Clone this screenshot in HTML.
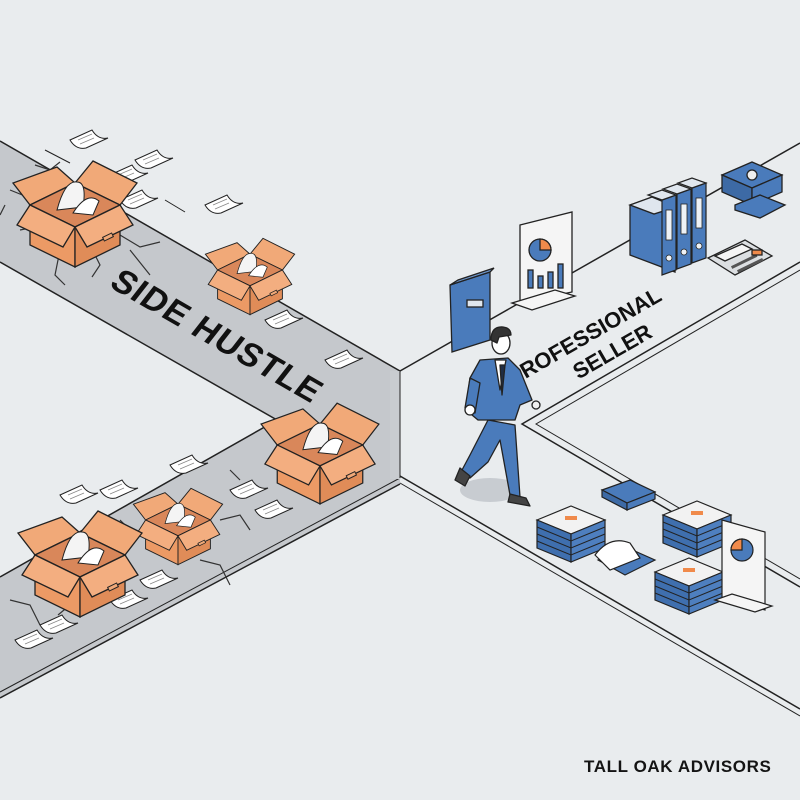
<!DOCTYPE html>
<html><head><meta charset="utf-8"><style>
html,body{margin:0;padding:0;background:#e9ecee;}
svg{display:block}
</style></head><body>
<svg width="800" height="800" viewBox="0 0 800 800" xmlns="http://www.w3.org/2000/svg">
<defs>
 <g id="box">
  <polygon points="-45,0 -62,-22 -18,-38 0,-22" fill="#f1a978" stroke="#222" stroke-width="1.3"/>
  <polygon points="0,-22 18,-44 62,-22 45,0" fill="#f1a978" stroke="#222" stroke-width="1.3"/>
  <polygon points="-45,0 0,-22 45,0 0,22" fill="#d9875a" stroke="#222" stroke-width="1.3"/>
  <path d="M-18,5 q8,-30 20,-28 q10,0 6,25 z" fill="#f4f4f4" stroke="#222" stroke-width="1"/>
  <path d="M-2,8 q14,-22 26,-12 l-6,14 z" fill="#fff" stroke="#222" stroke-width="1"/>
  <polygon points="-45,0 0,22 0,62 -45,40" fill="#ec9a65" stroke="#222" stroke-width="1.3"/>
  <polygon points="0,22 45,0 45,40 0,62" fill="#e08c58" stroke="#222" stroke-width="1.3"/>
  <polygon points="-45,0 -58,20 -12,42 0,22" fill="#f3ae80" stroke="#222" stroke-width="1.3"/>
  <polygon points="0,22 12,42 58,20 45,0" fill="#f3ae80" stroke="#222" stroke-width="1.3"/>
  <rect x="28" y="30" width="10" height="4" fill="#f1a978" stroke="#222" stroke-width="1" transform="rotate(-26 33 32)"/>
 </g>
 <g id="paper">
  <path d="M0,0 l22,-10 q6,10 16,8 l-22,10 q-10,2 -16,-8z" fill="#fff" stroke="#222" stroke-width="1"/>
  <path d="M8,0 l14,-6 M10,4 l14,-6" stroke="#888" stroke-width="0.8"/>
 </g>
 <g id="stack">
  <polygon points="0,0 34,-14 68,0 34,14" fill="#f2f2f2" stroke="#222" stroke-width="1.2"/>
  <polygon points="0,0 34,14 34,42 0,28" fill="#3f6fae" stroke="#222" stroke-width="1.2"/>
  <polygon points="34,14 68,0 68,28 34,42" fill="#4e7fbf" stroke="#222" stroke-width="1.2"/>
  <path d="M0,7 34,21 68,7 M0,14 34,28 68,14 M0,21 34,35 68,21" fill="none" stroke="#222" stroke-width="1"/>
  <rect x="28" y="-4" width="12" height="4" fill="#f08a4b"/>
 </g>
 <g id="binder">
  <polygon points="0,0 14,-5 14,70 0,75" fill="#4a7bbb" stroke="#222" stroke-width="1.2"/>
  <polygon points="0,0 14,-5 0,-10 -14,-5" fill="#dfe6ee" stroke="#222" stroke-width="1.2"/>
  <rect x="4" y="10" width="6" height="30" fill="#eef2f6" stroke="#222" stroke-width="0.8"/>
  <circle cx="7" cy="58" r="3" fill="#eef2f6" stroke="#222" stroke-width="0.8"/>
 </g>
</defs>

<!-- left road -->
<polygon points="0,141 400,371 400,484 0,698 0,577 277,420 0,262" fill="#c5c8cc"/>
<polyline points="0,141 400,371" fill="none" stroke="#222" stroke-width="1.5"/>
<polyline points="0,262 277,420 0,577" fill="none" stroke="#222" stroke-width="1.5"/>
<polyline points="0,698 400,484" fill="none" stroke="#222" stroke-width="1.5"/>
<polyline points="0,692 400,478" fill="none" stroke="#222" stroke-width="1"/>
<rect x="390" y="371" width="10" height="108" fill="#c9ccd0"/>
<line x1="400" y1="371" x2="400" y2="478" stroke="#222" stroke-width="1"/>

<!-- right lines -->
<polyline points="400,371 800,143" fill="none" stroke="#222" stroke-width="1.5"/>
<polyline points="800,262 522,424 800,587" fill="none" stroke="#222" stroke-width="1.5"/>
<polyline points="800,270 536,424 800,579" fill="none" stroke="#222" stroke-width="1"/>
<polyline points="400,476 800,709" fill="none" stroke="#222" stroke-width="1.5"/>
<polyline points="400,483 800,716" fill="none" stroke="#222" stroke-width="1"/>

<!-- cracks -->
<g fill="none" stroke="#333" stroke-width="1.2">
<path d="M10,190 l20,8 l10,-12 M20,230 l25,-5 l8,12 M60,250 l-5,25 l10,10 M90,245 l10,20 l-8,12 M120,235 l20,12 l20,-5 M130,250 l20,25 M5,205 l-5,10 M35,165 l15,5 l10,-8"/>
<path d="M220,520 l20,-5 l10,15 M200,560 l20,5 l10,20 M60,590 l10,15 l-12,10 M10,600 l20,5 l10,20 M120,520 l15,15 M230,470 l10,10"/>
</g>

<!-- papers -->
<use href="#paper" x="120" y="200"/>
<use href="#paper" x="110" y="175"/>
<use href="#paper" x="135" y="160"/>
<use href="#paper" x="265" y="320"/>
<use href="#paper" x="325" y="360"/>
<use href="#paper" x="170" y="465"/>
<use href="#paper" x="230" y="490"/>
<use href="#paper" x="255" y="510"/>
<use href="#paper" x="100" y="490"/>
<use href="#paper" x="60" y="495"/>
<use href="#paper" x="140" y="580"/>
<use href="#paper" x="110" y="600"/>
<use href="#paper" x="40" y="625"/>
<use href="#paper" x="15" y="640"/>
<use href="#paper" x="70" y="140"/>
<use href="#paper" x="205" y="205"/>
<line x1="45" y1="150" x2="70" y2="163" stroke="#222"/>
<line x1="165" y1="200" x2="185" y2="212" stroke="#222"/>

<!-- boxes -->
<use href="#box" transform="translate(75,205)"/>
<use href="#box" transform="translate(250,270) scale(0.72)"/>
<use href="#box" transform="translate(320,445) scale(0.95)"/>
<use href="#box" transform="translate(178,520) scale(0.72)"/>
<use href="#box" transform="translate(80,555)"/>

<!-- text -->
<text x="0" y="0" transform="translate(210,345) rotate(30) skewX(-8)" text-anchor="middle" font-family="Liberation Sans, sans-serif" font-weight="900" font-size="34" fill="#111" style="letter-spacing:1px">SIDE HUSTLE</text>
<text x="0" y="0" transform="translate(588,343) rotate(-30)" text-anchor="middle" font-family="Liberation Sans Narrow, Liberation Sans, sans-serif" font-weight="700" font-size="22" fill="#111">PROFESSIONAL</text>
<text x="0" y="0" transform="translate(616,358) rotate(-30)" text-anchor="middle" font-family="Liberation Sans Narrow, Liberation Sans, sans-serif" font-weight="700" font-size="22" fill="#111">SELLER</text>

<!-- top-right items -->
<g stroke="#222" stroke-width="1.3">
 <polygon points="450,285 490,272 490,340 452,352" fill="#4a7bbb"/>
 <polygon points="450,285 458,280 494,268 490,272" fill="#6f97cc"/>
 <rect x="467" y="300" width="16" height="7" fill="#dfe6ee"/>
 <polygon points="520,225 572,212 572,292 520,303" fill="#f5f5f5"/>
 <circle cx="540" cy="250" r="11" fill="#4a7bbb"/><path d="M540,250 V239 A11,11 0 0 1 551,250 z" fill="#f08a4b"/>
 <rect x="528" y="270" width="5" height="18" fill="#4a7bbb"/><rect x="538" y="276" width="5" height="12" fill="#4a7bbb"/><rect x="548" y="272" width="5" height="16" fill="#4a7bbb"/><rect x="558" y="264" width="5" height="24" fill="#4a7bbb"/>
 <polygon points="512,303 555,290 575,296 532,310" fill="#f5f5f5"/>
 <polygon points="630,205 650,198 675,208 675,272 630,255" fill="#4a7bbb"/>
 <polygon points="630,205 652,197 676,207 654,214" fill="#dfe6ee"/>
</g>
<use href="#binder" x="662" y="200"/>
<use href="#binder" x="677" y="194"/>
<use href="#binder" x="692" y="188"/>
<g stroke="#222" stroke-width="1.3">
 <polygon points="722,175 752,162 782,175 752,188" fill="#4a7bbb"/>
 <circle cx="752" cy="175" r="5" fill="#eee"/>
 <polygon points="722,175 752,188 752,205 722,192" fill="#3d6aa5"/>
 <polygon points="752,188 782,175 782,192 752,205" fill="#4a7bbb"/>
 <polygon points="735,205 760,195 785,205 760,218 735,210" fill="#4a7bbb"/>
 <polygon points="708,258 745,240 772,256 735,275" fill="#dcdfe2"/>
 <polygon points="715,256 742,244 752,249 725,261" fill="#f5f5f5"/>
 <g fill="#555" stroke="none">
  <rect x="730" y="260" width="28" height="3" transform="rotate(-26 744 261)"/>
  <rect x="736" y="264" width="28" height="3" transform="rotate(-26 750 265)"/>
 </g>
 <rect x="752" y="250" width="10" height="5" fill="#f08a4b"/>
</g>

<!-- bottom-right stacks -->
<use href="#stack" x="537" y="520"/>
<use href="#stack" x="663" y="515"/>
<use href="#stack" x="655" y="572"/>
<g stroke="#222" stroke-width="1.2">
 <polygon points="602,490 630,480 655,492 627,503" fill="#4a7bbb"/>
 <polygon points="602,490 627,503 627,510 602,497" fill="#3d6aa5"/>
 <polygon points="627,503 655,492 655,499 627,510" fill="#4a7bbb"/>
 <polygon points="598,560 628,548 655,560 625,575" fill="#4a7bbb"/>
 <path d="M595,555 q15,-20 35,-12 l10,15 l-30,12z" fill="#fff"/>
 <polygon points="722,520 765,532 765,610 722,598" fill="#f5f5f5"/>
 <circle cx="742" cy="550" r="11" fill="#4a7bbb"/><path d="M742,550 V539 A11,11 0 0 0 731,550 z" fill="#f08a4b"/>
 <polygon points="715,600 755,612 772,606 732,594" fill="#f5f5f5"/>
</g>

<!-- man -->
<ellipse cx="490" cy="490" rx="30" ry="12" fill="#c8ccd1"/>
<g stroke="#222" stroke-width="1.3" stroke-linejoin="round">
 <path d="M488,420 L470,455 L462,470 L470,478 L488,462 L500,440 L510,495 L520,497 L515,425 z" fill="#4a7bbb"/>
 <path d="M460,468 l-5,12 l10,6 l5,-10z" fill="#444"/>
 <path d="M510,494 l-2,8 l22,4 l-4,-8z" fill="#444"/>
 <path d="M480,360 L470,378 L466,410 L478,420 L515,420 L520,405 L532,400 L520,370 L508,358 z" fill="#4a7bbb"/>
 <path d="M495,360 l5,30 l6,-30z" fill="#fff"/>
 <path d="M500,365 l2,30 l3,-30z" fill="#1f2d44"/>
 <path d="M470,378 l-5,30 l10,5 l5,-30z" fill="#4a7bbb"/>
 <circle cx="470" cy="410" r="5" fill="#fff"/>
 <circle cx="536" cy="405" r="4" fill="#f0f0f0"/>
 <ellipse cx="501" cy="343" rx="9" ry="11" fill="#fff"/>
 <path d="M491,340 q0,-14 12,-13 q8,1 8,8 l-12,2 l-2,6z" fill="#333"/>
</g>

<text x="584" y="772" font-family="Liberation Sans, sans-serif" font-weight="700" font-size="17" fill="#141414" style="letter-spacing:0.6px">TALL OAK ADVISORS</text>
</svg>
</body></html>
